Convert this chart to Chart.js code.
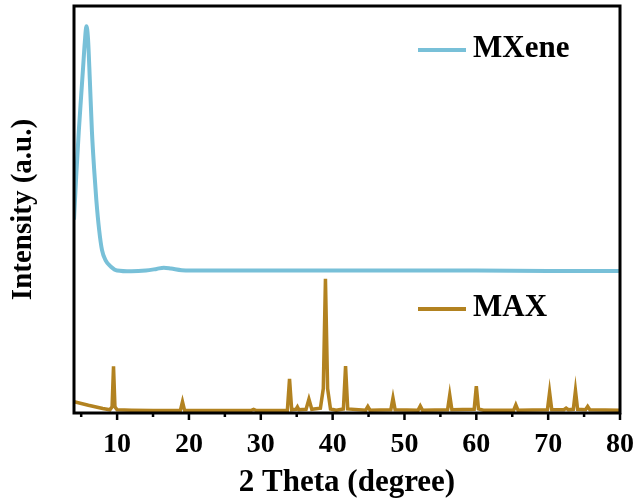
<!DOCTYPE html>
<html>
<head>
<meta charset="utf-8">
<script src="https://cdn.jsdelivr.net/npm/chart.js@4.4.0/dist/chart.umd.min.js"></script>
<style>
  body { margin: 0; background: #fff; }
  #wrap { width: 638px; height: 504px; position: relative; }
</style>
</head>
<body>
<div id="wrap"><canvas id="xrd"></canvas></div>
<script>
// MXene pattern (2 theta, intensity a.u.)
const mxeneX = [4.0, 4.3, 4.66, 5.0, 5.27, 5.5, 5.73, 5.95, 6.2, 6.5, 6.8, 7.1, 7.5, 7.9, 8.4, 9.1, 10, 12, 14, 15.5, 16.5, 17.5, 19, 22, 30, 40, 50, 60, 70, 80];
const mxeneY = [47.5, 58, 69, 78, 85, 91, 95, 92, 82, 69, 60, 52.5, 45, 40, 37.5, 36, 35.0, 34.8, 35.0, 35.4, 35.7, 35.5, 35.1, 35.0, 35.0, 35.0, 35.0, 35.0, 34.9, 34.9];

// MAX pattern
const maxX = [4.0, 6.0, 8.0, 9.0, 9.3, 9.5, 9.7, 10.0, 12, 15, 18.8, 19.1, 19.4, 28.6, 29.0, 29.4,
  33.7, 34.0, 34.3, 34.9, 35.1, 35.3, 36.3, 36.7, 37.1, 38.3, 38.7, 39.0, 39.3, 39.7, 40.5,
  41.5, 41.8, 42.1, 44.6, 44.9, 45.2, 48.1, 48.4, 48.7, 51.9, 52.2, 52.5, 56.0, 56.3, 56.6,
  59.7, 60.0, 60.3, 61.0, 65.2, 65.5, 65.8, 69.9, 70.2, 70.5, 72.2, 72.5, 72.8, 73.5, 73.8, 74.1,
  75.2, 75.5, 75.8, 80];
const maxY = [2.8, 1.9, 1.1, 0.8, 1.5, 11.5, 1.5, 0.8, 0.7, 0.6, 0.6, 2.8, 0.6, 0.6, 0.9, 0.6,
  0.7, 8.4, 0.8, 0.9, 1.5, 0.8, 0.9, 3.4, 0.9, 1.2, 6, 33, 6, 1.0, 0.7,
  1.0, 11.5, 1.0, 0.7, 1.6, 0.7, 0.8, 3.7, 0.8, 0.7, 1.7, 0.7, 0.8, 4.4, 0.8,
  0.9, 6.6, 1.0, 0.7, 0.7, 2.0, 0.7, 0.8, 5.1, 0.8, 0.8, 1.2, 0.8, 0.9, 5.5, 0.9,
  0.8, 1.6, 0.8, 0.7];

const xTicks = [10, 20, 30, 40, 50, 60, 70, 80];
const xMinorTicks = [5, 15, 25, 35, 45, 55, 65, 75];

const seriesNames = ["MXene", "MAX"];
const seriesColors = ["#78c0d8", "#b28220"];

const toPoints = (xs, ys) => xs.map((x, i) => ({ x: x, y: ys[i] }));

// frame, tick marks and the two legend entries
const decorPlugin = {
  id: "decor",
  afterDraw(chart) {
    const { ctx, chartArea: a } = chart;
    const x = chart.scales.x;
    ctx.save();
    ctx.strokeStyle = "#000";
    ctx.lineWidth = 3;
    ctx.strokeRect(a.left, a.top, a.right - a.left, a.bottom - a.top);

    ctx.lineWidth = 2.5;
    xTicks.forEach(v => {
      const px = x.getPixelForValue(v);
      ctx.beginPath(); ctx.moveTo(px, a.bottom); ctx.lineTo(px, a.bottom + 7); ctx.stroke();
    });
    xMinorTicks.forEach(v => {
      const px = x.getPixelForValue(v);
      ctx.beginPath(); ctx.moveTo(px, a.bottom); ctx.lineTo(px, a.bottom + 4); ctx.stroke();
    });

    // legend entries
    const legendY = [50, 309];
    ctx.font = "bold 31px 'Liberation Serif'";
    ctx.textBaseline = "middle";
    seriesNames.forEach((name, i) => {
      ctx.strokeStyle = seriesColors[i];
      ctx.lineWidth = 4;
      ctx.beginPath(); ctx.moveTo(418, legendY[i]); ctx.lineTo(466, legendY[i]); ctx.stroke();
      ctx.fillStyle = "#000";
      ctx.fillText(name, 473, legendY[i] - 1);
    });
    ctx.restore();
  }
};

new Chart(document.getElementById("xrd"), {
  type: "line",
  data: {
    datasets: [
      {
        label: seriesNames[0],
        data: toPoints(mxeneX, mxeneY),
        borderColor: seriesColors[0],
        borderWidth: 4,
        pointRadius: 0,
        cubicInterpolationMode: "monotone"
      },
      {
        label: seriesNames[1],
        data: toPoints(maxX, maxY),
        borderColor: seriesColors[1],
        borderWidth: 3.5,
        pointRadius: 0,
        tension: 0
      }
    ]
  },
  options: {
    responsive: true,
    maintainAspectRatio: false,
    animation: false,
    layout: { padding: { top: 6, right: 18, left: 0, bottom: 0 } },
    plugins: { legend: { display: false }, tooltip: { enabled: false } },
    scales: {
      x: {
        type: "linear",
        min: 4,
        max: 80,
        grid: { display: false },
        border: { display: false },
        ticks: {
          stepSize: 10,
          includeBounds: false,
          autoSkip: false,
          maxRotation: 0,
          padding: 7,
          color: "#000",
          font: { family: "Liberation Serif", size: 28, weight: "bold" }
        },
        title: {
          display: true,
          text: "2 Theta (degree)",
          color: "#000",
          padding: { top: 0, bottom: 2 },
          font: { family: "Liberation Serif", size: 31, weight: "bold" }
        },
        afterFit(scale) {
          scale.height = 91;
          scale.paddingLeft = 0;
          scale.paddingRight = 0;
        }
      },
      y: {
        min: 0,
        max: 100,
        grid: { display: false },
        border: { display: false },
        ticks: { display: false },
        title: {
          display: true,
          text: "Intensity (a.u.)",
          color: "#000",
          padding: { top: 6, bottom: 0 },
          font: { family: "Liberation Serif", size: 29, weight: "bold" }
        },
        afterFit(scale) { scale.width = 74; }
      }
    }
  },
  plugins: [decorPlugin]
});
</script>
</body>
</html>
